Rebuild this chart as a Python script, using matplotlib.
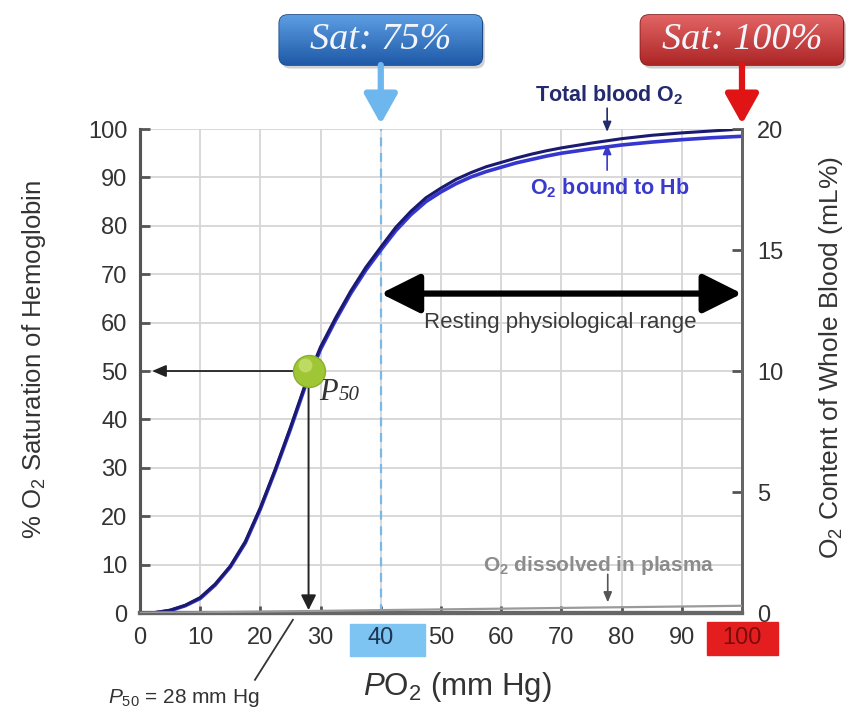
import numpy as np
import matplotlib
matplotlib.use('Agg')
import matplotlib.pyplot as plt
from matplotlib.patches import FancyBboxPatch, Rectangle
from matplotlib.colors import LinearSegmentedColormap
from matplotlib.transforms import blended_transform_factory

plt.rcParams['font.family'] = 'Liberation Sans'
plt.rcParams['mathtext.fontset'] = 'custom'
plt.rcParams['mathtext.rm'] = 'Liberation Sans'
plt.rcParams['mathtext.it'] = 'Liberation Sans:italic'
plt.rcParams['mathtext.bf'] = 'Liberation Sans:bold'

# --- data ---
po2 = [0, 2.5, 5, 7.5, 10, 12.5, 15, 17.5, 20, 22.5, 25, 27.5, 30, 32.5, 35,
       37.5, 40, 42.5, 45, 47.5, 50, 52.5, 55, 57.5, 60, 62.5, 65, 67.5, 70,
       75, 80, 85, 90, 95, 100]
sat_hb = [0, 0.05, 0.5, 1.5, 3, 5.8, 9.5, 14.5, 21.5, 29.5, 38, 47, 54.5,
          60.5, 66, 70.8, 75, 79, 82.3, 85, 87, 88.7, 90.1, 91.2, 92.1, 93,
          93.7, 94.4, 95, 95.9, 96.7, 97.3, 97.8, 98.2, 98.5]
sat_total = [0, 0.1, 0.6, 1.6, 3.2, 6.0, 9.7, 14.8, 21.8, 29.8, 38.4, 47.4, 55,
             61, 66.5, 71.4, 75.6, 79.7, 83.0, 85.8, 87.8, 89.6, 91.0, 92.2,
             93.1, 94.0, 94.8, 95.5, 96.1, 97.1, 98.0, 98.7, 99.2, 99.6, 100]
plasma_po2 = [0, 100]
plasma_ml = [0, 0.3]

p50_po2, p50_sat = 28, 50
rest_range = (40, 100)
x_ticks = list(range(0, 101, 10))
y_ticks = list(range(0, 101, 10))
right_ticks = [0, 5, 10, 15, 20]
sat_labels = ['Sat: 75%', 'Sat: 100%']
sat_po2 = [40, 100]

fig = plt.figure(figsize=(8.51, 7.12), dpi=100)
L, B, W, H = 0.1645, 0.139, 0.7074, 0.6798
ax = fig.add_axes([L, B, W, H])
ax2 = ax.twinx()

ax.set_xlim(0, 100)
ax.set_ylim(0, 100)
ax2.set_ylim(0, 20)

ax.grid(True, color='#d6d6d6', lw=1.3)
ax.set_axisbelow(True)
ax.set_xticks(x_ticks)
ax.set_yticks(y_ticks)
ax2.set_yticks(right_ticks)

ax.tick_params(axis='both', direction='in', colors='#555555', labelcolor='#333333',
               labelsize=17, length=7, width=2, pad=9)
ax.tick_params(axis='x', length=5, pad=10)
ax2.tick_params(axis='y', direction='in', colors='#555555', labelcolor='#333333',
                labelsize=17, length=7, width=2, pad=11)

for a in (ax, ax2):
    a.spines['top'].set_visible(False)
    a.spines['left'].set_color('#555555')
    a.spines['left'].set_linewidth(2.2)
    a.spines['bottom'].set_color('#666666')
    a.spines['bottom'].set_linewidth(3)
    a.spines['right'].set_color('#666666')
    a.spines['right'].set_linewidth(2)

ax.set_ylabel('% O$_2$ Saturation of Hemoglobin', fontsize=18.5, color='#333333')
ax.yaxis.set_label_coords(-0.152, 0.523)
ax2.set_ylabel('O$_2$ Content of Whole Blood (mL%)', fontsize=19, color='#333333')
ax2.yaxis.set_label_coords(1.124, 0.529)
ax.set_xlabel('$\\mathit{P}$O$_2$ (mm Hg)', fontsize=22.5, color='#333333')
ax.xaxis.set_label_coords(0.528, -0.118)

# highlighted tick labels
bt = blended_transform_factory(ax.transData, ax.transAxes)
ax.add_patch(Rectangle((34.9, -0.089), 12.4, 0.066, transform=bt, clip_on=False,
                       color='#7ec4f2', zorder=0.5))
ax.add_patch(Rectangle((94.2, -0.087), 11.8, 0.068, transform=bt, clip_on=False,
                       color='#e41e1e', zorder=0.5))
for lab in ax.get_xticklabels():
    if lab.get_text() == '100':
        lab.set_color('#7a0c0c')
    elif lab.get_text() == '40':
        lab.set_color('#1c3550')

# reference lines
ax.axvline(sat_po2[0], color='#7ab8e8', lw=1.6, ls=(0, (4, 3)), zorder=2)
ax.axvline(sat_po2[1], color='#e03030', lw=2, zorder=4, clip_on=False)

# curves
ax2.plot(plasma_po2, plasma_ml, color='#9a9a9a', lw=1.6, zorder=3)
ax.plot(po2, sat_hb, color='#3535d0', lw=2.6, zorder=3,
        solid_capstyle='round', solid_joinstyle='round')
ax.plot(po2, sat_total, color='#1a1a70', lw=2.2, zorder=3,
        solid_capstyle='round', solid_joinstyle='round')

# resting range arrow
ax.annotate('', xy=(rest_range[1], 66), xytext=(rest_range[0], 66),
            arrowprops=dict(arrowstyle='<|-|>,head_width=0.5,head_length=1.0',
                            lw=4.5, color='black', mutation_scale=24,
                            shrinkA=0, shrinkB=0), zorder=5)
ax.text(69.8, 60, 'Resting physiological range', ha='center', va='center',
        fontsize=16, color='#3a3a3a')

# P50 arrows and marker
ax.annotate('', xy=(2, p50_sat), xytext=(p50_po2, p50_sat),
            arrowprops=dict(arrowstyle='-|>,head_width=0.3,head_length=0.7',
                            lw=1.3, color='#222222', mutation_scale=12,
                            shrinkA=0, shrinkB=0), zorder=4)
ax.annotate('', xy=(p50_po2, 0.6), xytext=(p50_po2, p50_sat),
            arrowprops=dict(arrowstyle='-|>,head_width=0.35,head_length=0.7',
                            lw=1.4, color='#222222', mutation_scale=13,
                            shrinkA=0, shrinkB=0), zorder=4)
ax.plot([p50_po2], [p50_sat], 'o', ms=23, mfc='#9fc634', mec='#88b02a', mew=1, zorder=6)
ax.plot([p50_po2 - 0.6], [p50_sat + 1.2], 'o', ms=10, mfc='#c5e070', mec='none',
        alpha=0.8, zorder=6)
ax.text(29.8, 44, 'P', fontsize=22, family='Liberation Serif', style='italic',
        color='#333333', va='baseline', zorder=7)
ax.annotate('50', xy=(29.8, 44), xytext=(14, 0), textcoords='offset points',
            fontsize=15, family='Liberation Serif', style='italic',
            color='#333333', va='baseline', zorder=7)

ax.text(-5.3, -17.6, '$\\mathit{P}_{50}$ = 28 mm Hg', fontsize=15, color='#333333',
        ha='left', va='center', clip_on=False)
ax.plot([19.1, 25.4], [-13.8, -1.4], color='#333333', lw=1.3, clip_on=False)

# curve labels
arrow_small = dict(arrowstyle='-|>,head_width=0.25,head_length=0.6', lw=1.2,
                   mutation_scale=10, shrinkA=0, shrinkB=0)
ax.text(77.9, 107, 'Total blood O$_\\mathbf{2}$', ha='center', va='center',
        fontsize=15.5, fontweight='bold', color='#232a6e', clip_on=False)
ax.annotate('', xy=(77.6, 99.4), xytext=(77.6, 104.3), annotation_clip=False,
            arrowprops=dict(color='#232a6e', **arrow_small))
ax.text(78, 87.8, 'O$_\\mathbf{2}$ bound to Hb', ha='center', va='center',
        fontsize=15.5, fontweight='bold', color='#3a3acc')
ax.annotate('', xy=(77.6, 96.9), xytext=(77.6, 91.5),
            arrowprops=dict(color='#3a3acc', **arrow_small))
ax.text(76.2, 9.9, 'O$_\\mathbf{2}$ dissolved in plasma', ha='center', va='center',
        fontsize=15, fontweight='bold', color='#8c8c8c')
ax.annotate('', xy=(77.7, 2.2), xytext=(77.7, 8.0),
            arrowprops=dict(color='#555555', **arrow_small))

# Sat boxes on an overlay axes in figure fractions
ov = fig.add_axes([0, 0, 1, 1], zorder=10)
ov.set_axis_off()
box_styles = [('#5c9de2', '#1f5aa8', '#1a4a8a', '#6db6ee'),
              ('#e26464', '#ad2626', '#8a1c1c', '#e01414')]
bw, bh = 203 / 851, 50 / 712
by = 1 - 65 / 712
for xv, text, (ctop, cbot, cedge, carrow) in zip(sat_po2, sat_labels, box_styles):
    fx = L + W * xv / 100
    x0 = fx - bw / 2
    shadow = FancyBboxPatch((x0 + 0.003, by - 0.005), bw, bh,
                            boxstyle='round,pad=0,rounding_size=0.01',
                            mutation_aspect=851 / 712, fc='#000000', ec='none', alpha=0.18)
    ov.add_patch(shadow)
    box = FancyBboxPatch((x0, by), bw, bh, boxstyle='round,pad=0,rounding_size=0.01',
                         mutation_aspect=851 / 712, fc=cbot, ec=cedge, lw=1.2)
    ov.add_patch(box)
    cmap = LinearSegmentedColormap.from_list('g', [cbot, ctop])
    grad = np.linspace(0, 1, 64).reshape(-1, 1)
    im = ov.imshow(grad, extent=[x0, x0 + bw, by, by + bh], origin='lower',
                   aspect='auto', cmap=cmap, zorder=1)
    im.set_clip_path(box)
    ov.text(fx, by + bh / 2, text, ha='center', va='center', fontsize=27.5,
            family='Liberation Serif', style='italic', color='#f2f5fb', zorder=3)
    ov.annotate('', xy=(fx, 1 - 124 / 712), xytext=(fx, by),
                arrowprops=dict(arrowstyle='-|>,head_width=0.42,head_length=0.75',
                                lw=4.5, color=carrow, mutation_scale=24,
                                shrinkA=0, shrinkB=0))
ov.set_xlim(0, 1)
ov.set_ylim(0, 1)

fig.savefig('out.png', dpi=100)
